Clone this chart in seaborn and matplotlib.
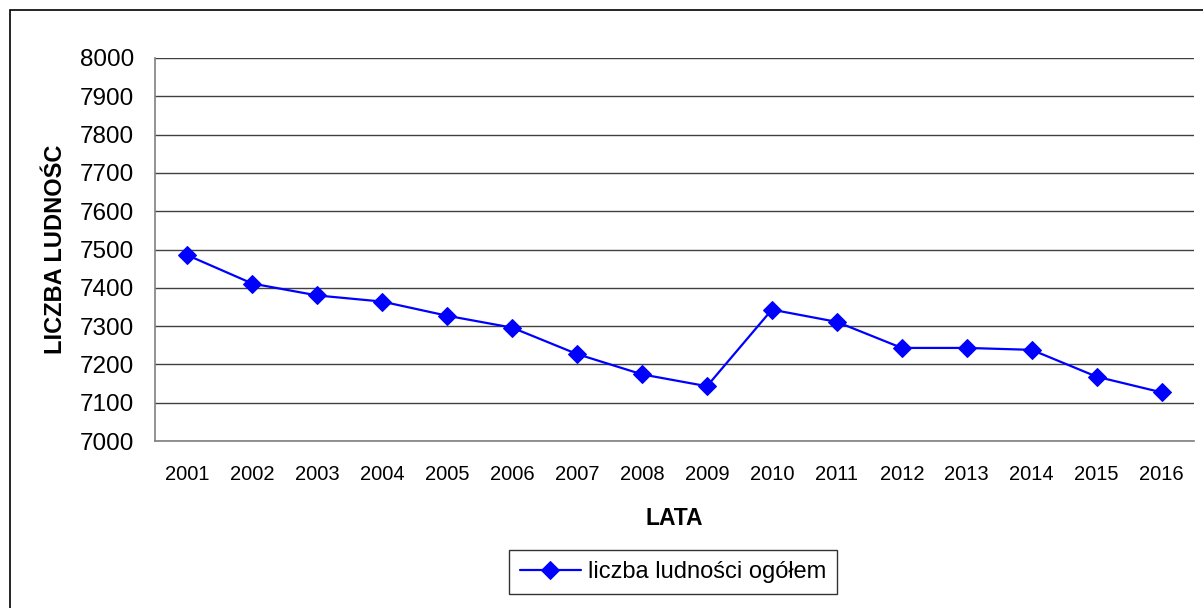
import matplotlib.pyplot as plt
import seaborn as sns
import pandas as pd
from matplotlib.patches import Rectangle
from matplotlib.ticker import FixedLocator

lata = ["2001", "2002", "2003", "2004", "2005", "2006", "2007", "2008",
        "2009", "2010", "2011", "2012", "2013", "2014", "2015", "2016"]
ludnosc = [7485, 7411, 7380, 7364, 7327, 7296, 7227, 7174,
           7143, 7343, 7311, 7243, 7243, 7238, 7168, 7127]
seria = "liczba ludności ogółem"

df = pd.DataFrame({"LATA": lata, "ludnosc": ludnosc})

sns.set_style("white")
plt.rcParams["font.family"] = ["Liberation Sans", "DejaVu Sans"]
plt.rcParams["text.color"] = "black"
plt.rcParams["axes.labelcolor"] = "black"
plt.rcParams["xtick.color"] = "black"
plt.rcParams["ytick.color"] = "black"

fig = plt.figure(figsize=(12.03, 6.08), dpi=100)
ax = fig.add_axes([155 / 1203, 1 - 441 / 608, (1194 - 155) / 1203, (441 - 58) / 608])

sns.lineplot(x="LATA", y="ludnosc", data=df, ax=ax, color="#0000FF",
             marker="D", markersize=9.5, markeredgecolor="#0000FF",
             linewidth=1.6, label=seria)

ax.set_ylim(7000, 8000)
ax.set_yticks(range(7000, 8001, 100))
ax.set_xlim(-0.5, len(lata) - 0.5)
ax.set_xticks(range(len(lata)))
ax.set_xticklabels(lata)
ax.xaxis.set_minor_locator(FixedLocator([i - 0.5 for i in range(len(lata) + 1)]))
ax.tick_params(axis="x", which="major", length=0, pad=17, labelsize=14.5, labelcolor="black")
ax.tick_params(axis="x", which="minor", length=5, width=1, color="#606060", direction="out")
ax.tick_params(axis="y", length=6, width=1, color="#606060", direction="out",
               labelsize=17.5, pad=9, labelcolor="black")

ax.grid(axis="y", color="#404040", linewidth=1)
ax.set_axisbelow(True)
for s in ["top", "right"]:
    ax.spines[s].set_visible(False)
for s in ["left", "bottom"]:
    ax.spines[s].set_color("#808080")
    ax.spines[s].set_linewidth(1.2)

ax.set_xlabel("LATA", fontsize=16.5, fontweight="bold", labelpad=17)
ax.set_ylabel("LICZBA LUDNOŚC", fontsize=17, fontweight="bold", labelpad=9)

leg = ax.legend(loc="center", bbox_to_anchor=(673 / 1203, 1 - 572 / 608),
                bbox_transform=fig.transFigure, fontsize=17, frameon=True,
                fancybox=False, handlelength=2.6, borderpad=0.45, handletextpad=0.3)
leg.get_frame().set_edgecolor("black")
leg.get_frame().set_linewidth(1)

fig.patches.append(Rectangle((10 / 1203, -0.1), 1.2, 1.1 - 10 / 608,
                             transform=fig.transFigure, fill=False,
                             edgecolor="black", linewidth=1.2))

plt.savefig("out.png", dpi=100)
